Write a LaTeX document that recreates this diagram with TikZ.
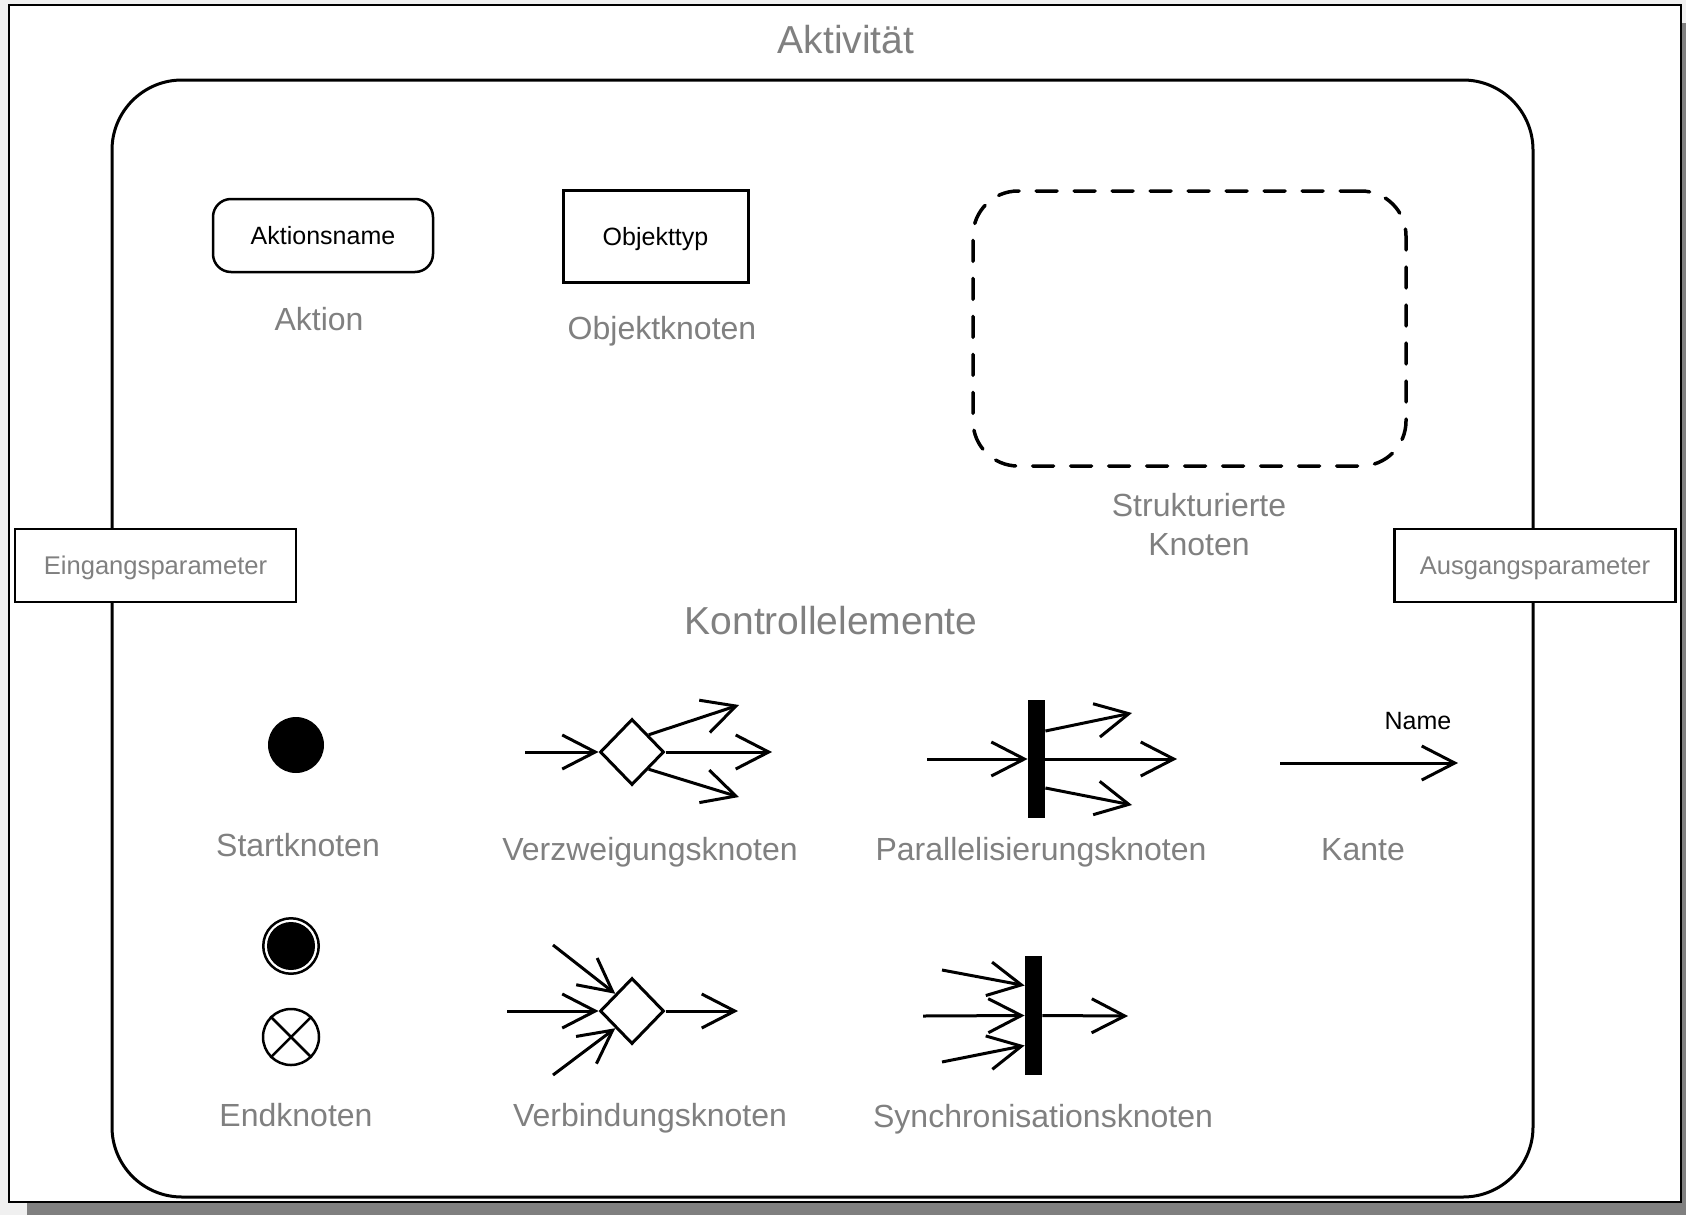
\documentclass[tikz,border=0pt]{standalone}
\usepackage{fontspec}
\setmainfont{Liberation Sans}
\usetikzlibrary{arrows.meta,shapes.geometric}
\definecolor{canvasgray}{RGB}{240,240,240}
\definecolor{shadowgray}{RGB}{128,128,128}
\definecolor{captiongray}{RGB}{128,128,128}
\tikzset{
  flow/.style={line width=1.5pt, -{Straight Barb[length=16.5pt,width=17pt]}},
  caption/.style={anchor=base, text=captiongray, inner sep=0pt, font=\fontsize{16}{19}\selectfont},
  heading/.style={caption, font=\fontsize{19.5}{23}\selectfont},
  inner text/.style={font=\fontsize{12.5}{15}\selectfont, text depth=0pt},
  activity/.style={draw, line width=1.5pt, rounded corners=35pt, minimum width=710.5pt, minimum height=558.5pt},
  parambox/.style={draw, fill=white, line width=1.4pt, minimum width=140.5pt, minimum height=36.5pt,
    text=captiongray, font=\fontsize{12.8}{15}\selectfont, text depth=0pt},
  actionbox/.style={draw, line width=1.25pt, rounded corners=9pt, minimum width=110pt, minimum height=36.5pt, inner text},
  objectbox/.style={draw, line width=1.5pt, minimum width=92.5pt, minimum height=46pt, inner text},
  structbox/.style={draw, line width=1.75pt, dash pattern=on 10.5pt off 8.5pt, line cap=round,
    rounded corners=22.5pt, minimum width=216.5pt, minimum height=137.5pt},
  startdot/.style={circle, fill=black, inner sep=0pt, minimum size=28pt},
  finalring/.style={circle, draw, line width=1.25pt, inner sep=0pt, minimum size=27.75pt},
  finaldot/.style={circle, fill=black, inner sep=0pt, minimum size=24pt},
  flowfinal/.style={circle, draw, line width=1.25pt, inner sep=0pt, minimum size=28pt},
  decision/.style={diamond, draw, line width=1.5pt, inner sep=0pt, minimum width=32pt, minimum height=33pt},
  syncbar/.style={rectangle, fill=black, inner sep=0pt, minimum width=8.5pt, minimum height=59pt},
}
\begin{document}
\begin{tikzpicture}[x=0.5pt,y=-0.5pt]
\useasboundingbox (0,0) rectangle (1686,1215);
% sheet with drop shadow
\fill[canvasgray] (0,0) rectangle (1686,1215);
\fill[shadowgray] (27,23) rectangle (1686,1215);
\draw[fill=white, line width=1pt] (9,5) rectangle (1681,1202);

% activity with its parameters
\node[heading] (title) at (846,53) {Aktivität};
\node[activity] (act) at (822.5,638.5) {};
\node[parambox] (inparam) at (155.5,565.5) {Eingangsparameter};
\node[parambox] (outparam) at (1535,565.5) {Ausgangsparameter};

% action, object node, structured node
\node[actionbox] (action) at (323,235.5) {Aktionsname};
\node[caption] (actionlbl) at (319,330) {Aktion};
\node[objectbox] (object) at (655.5,236) {Objekttyp};
\node[caption] (objectlbl) at (662,339) {Objektknoten};
\node[structbox] (struct) at (1189.5,328.5) {};
% base of a two-line node sits on its last line
\node[caption, align=center, font=\fontsize{16}{19.5}\selectfont] (structlbl) at (1199,555) {Strukturierte\\Knoten};

\node[heading] (ctrl) at (831,634) {Kontrollelemente};

% start node
\node[startdot] (start) at (296,745) {};
\node[caption] (startlbl) at (298,856) {Startknoten};

% decision node
\node[decision] (vz) at (632,752) {};
\coordinate (vz-in) at (525,752);
\coordinate (vz-up) at (739,705);
\coordinate (vz-mid) at (772,752);
\coordinate (vz-low) at (739,797);
\draw[flow] (vz-in) -- (vz.west);
\draw[flow] (vz.north east) -- (vz-up);
\draw[flow] (vz.east) -- (vz-mid);
\draw[flow] (vz.south east) -- (vz-low);
\node[caption] (vzlbl) at (650,860) {Verzweigungsknoten};

% fork node
\node[syncbar] (pf) at (1036.5,759) {};
\coordinate (pf-in) at (927,759);
\coordinate (pf-up) at (1132,713);
\coordinate (pf-mid) at (1177,759);
\coordinate (pf-low) at (1132,805);
\draw[flow] (pf-in) -- (pf.west);
\draw[flow] ([yshift=14pt]pf.east) -- (pf-up);
\draw[flow] (pf.east) -- (pf-mid);
\draw[flow] ([yshift=-14.5pt]pf.east) -- (pf-low);
\node[caption] (pflbl) at (1041,860) {Parallelisierungsknoten};

% edge
\coordinate (ka-from) at (1280,763);
\coordinate (ka-to) at (1458,763);
\draw[flow] (ka-from) -- (ka-to);
\node[anchor=base, inner sep=0pt, font=\fontsize{12.5}{15}\selectfont] (kaname) at (1418,729) {Name};
\node[caption] (kalbl) at (1363,860) {Kante};

% final nodes
\node[finalring] (final) at (291,946) {};
\node[finaldot] (finaldot) at (final.center) {};
\node[flowfinal] (ff) at (291,1037) {};
\draw[line width=1.25pt] (ff.north west) -- (ff.south east);
\draw[line width=1.25pt] (ff.north east) -- (ff.south west);
\node[caption] (endlbl) at (296,1126) {Endknoten};

% merge node
\node[decision] (vb) at (632,1011) {};
\coordinate (vb-up) at (553,945);
\coordinate (vb-mid) at (507,1011);
\coordinate (vb-low) at (553,1075);
\coordinate (vb-out) at (738,1011);
\draw[flow] (vb-up) -- (vb.north west);
\draw[flow] (vb-mid) -- (vb.west);
\draw[flow] (vb-low) -- (vb.south west);
\draw[flow] (vb.east) -- (vb-out);
\node[caption] (vblbl) at (650,1126) {Verbindungsknoten};

% join node
\node[syncbar, minimum height=59.5pt] (sy) at (1033.5,1015.5) {};
\coordinate (sy-up) at (942,970);
\coordinate (sy-mid) at (923,1016);
\coordinate (sy-low) at (942,1062);
\coordinate (sy-out) at (1128,1016);
\draw[flow] (sy-up) -- ([yshift=15pt]sy.west);
\draw[flow] (sy-mid) -- (sy.west);
\draw[flow] (sy-low) -- ([yshift=-15pt]sy.west);
\draw[flow] (sy.east) -- (sy-out);
\node[caption] (sylbl) at (1043,1127) {Synchronisationsknoten};
\end{tikzpicture}
\end{document}
